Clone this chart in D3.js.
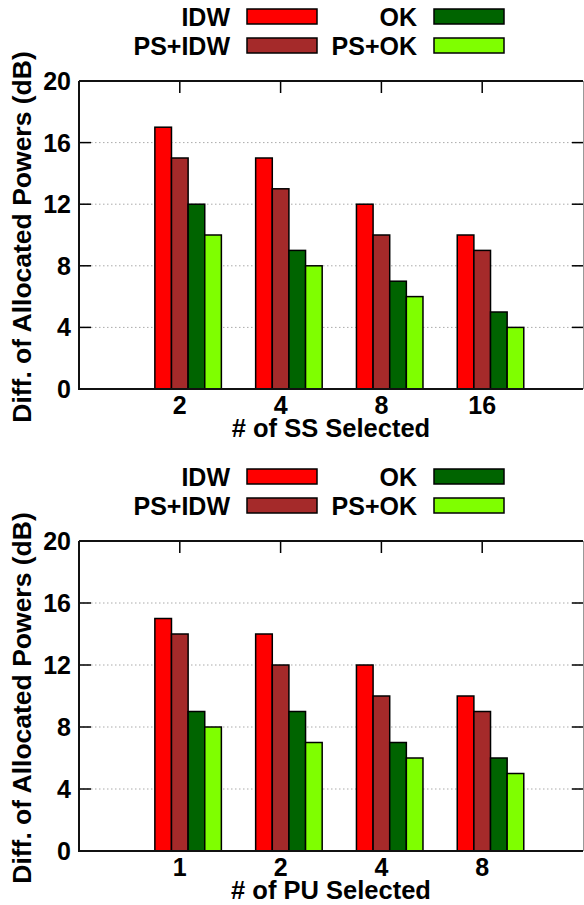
<!DOCTYPE html>
<html lang="en">
  <head>
    <meta charset="utf-8">
    <title>Diff. of Allocated Powers</title>
    <style type="text/css">
      body {
        margin: 0;
        background-color: #ffffff;
      }
      svg text {
        font-family: "Liberation Sans", Arial, sans-serif;
        font-weight: bold;
      }
    </style>
    <script src="https://d3js.org/d3.v7.min.js"></script>
  </head>
  <body>
    <div id="my_dataviz"></div>

    <script>

    // series + colours
    var seriesNames = ["IDW", "PS+IDW", "OK", "PS+OK"];
    var seriesColors = ["#ff0000", "#a52a2a", "#006400", "#7fff00"];
    var yTicks = [0, 4, 8, 12, 16, 20];

    // top panel: # of SS selected
    var ssCategories = ["2", "4", "8", "16"];
    var ssIDW   = [17, 15, 12, 10];
    var ssPSIDW = [15, 13, 10, 9];
    var ssOK    = [12, 9, 7, 5];
    var ssPSOK  = [10, 8, 6, 4];

    // bottom panel: # of PU selected
    var puCategories = ["1", "2", "4", "8"];
    var puIDW   = [15, 14, 12, 10];
    var puPSIDW = [14, 12, 10, 9];
    var puOK    = [9, 9, 7, 6];
    var puPSOK  = [8, 7, 6, 5];

    var width = 584, height = 905;
    var fontSize = 25;

    var svg = d3.select("#my_dataviz")
      .append("svg")
        .attr("width", width)
        .attr("height", height);

    function drawPanel(top, bottom, categories, values, xTitle) {
      var left = 79, right = 583;
      var g = svg.append("g");

      // gnuplot style xrange [-1:4]
      var x = d3.scaleLinear().domain([-1, categories.length]).range([left, right]);
      var y = d3.scaleLinear().domain([0, 20]).range([bottom, top]);
      var bw = x(0.165) - x(0);

      // dotted grid
      g.selectAll("grid")
        .data(yTicks.filter(function(d){ return d > 0 && d < 20 }))
        .enter()
        .append("line")
          .attr("x1", left)
          .attr("x2", right)
          .attr("y1", function(d){ return y(d) })
          .attr("y2", function(d){ return y(d) })
          .attr("stroke", "#aaaaaa")
          .attr("stroke-width", 1)
          .attr("stroke-dasharray", "1.5,2.5");

      // ticks inward, left + right
      g.selectAll("lticks")
        .data(yTicks)
        .enter()
        .append("line")
          .attr("x1", left).attr("x2", left + 12)
          .attr("y1", function(d){ return y(d) })
          .attr("y2", function(d){ return y(d) })
          .attr("stroke", "#000").attr("stroke-width", 1.5);
      g.selectAll("rticks")
        .data(yTicks)
        .enter()
        .append("line")
          .attr("x1", right - 11).attr("x2", right)
          .attr("y1", function(d){ return y(d) })
          .attr("y2", function(d){ return y(d) })
          .attr("stroke", "#000").attr("stroke-width", 1.5);

      // x ticks on top (mirror)
      g.selectAll("tticks")
        .data(categories)
        .enter()
        .append("line")
          .attr("x1", function(d, i){ return x(i) })
          .attr("x2", function(d, i){ return x(i) })
          .attr("y1", top).attr("y2", top + 12)
          .attr("stroke", "#000").attr("stroke-width", 1.5);

      // bars
      values.forEach(function(vals, j) {
        g.selectAll("bars" + j)
          .data(vals)
          .enter()
          .append("rect")
            .attr("x", function(d, i){ return x(i) + (j - 1.5) * bw })
            .attr("y", function(d){ return y(d) })
            .attr("width", bw)
            .attr("height", function(d){ return y(0) - y(d) })
            .attr("fill", seriesColors[j])
            .attr("stroke", "#000")
            .attr("stroke-width", 1.5);
      });

      // frame
      g.append("path")
        .attr("d", "M" + left + "," + top + "V" + bottom + "H" + right)
        .attr("fill", "none").attr("stroke", "#111").attr("stroke-width", 2);
      g.append("line")
        .attr("x1", left).attr("x2", right)
        .attr("y1", top).attr("y2", top)
        .attr("stroke", "#111").attr("stroke-width", 2);
      g.append("line")
        .attr("x1", right + 0.5).attr("x2", right + 0.5)
        .attr("y1", top).attr("y2", bottom)
        .attr("stroke", "#999").attr("stroke-width", 1);

      // y tick labels
      g.selectAll("ylabels")
        .data(yTicks)
        .enter()
        .append("text")
          .attr("x", left - 8)
          .attr("y", function(d){ return y(d) })
          .attr("dy", "0.36em")
          .attr("text-anchor", "end")
          .attr("font-size", fontSize + "px")
          .attr("fill", "#000")
          .text(function(d){ return d });

      // x tick labels
      g.selectAll("xlabels")
        .data(categories)
        .enter()
        .append("text")
          .attr("x", function(d, i){ return x(i) })
          .attr("y", bottom + 25)
          .attr("text-anchor", "middle")
          .attr("font-size", fontSize + "px")
          .attr("fill", "#000")
          .text(function(d){ return d });

      // axis titles
      g.append("text")
        .attr("x", (left + right) / 2)
        .attr("y", bottom + 48)
        .attr("text-anchor", "middle")
        .attr("font-size", "25.5px")
        .attr("fill", "#000")
        .text(xTitle);

      g.append("text")
        .attr("transform", "translate(31," + ((top + bottom) / 2 + 2) + ") rotate(-90)")
        .attr("text-anchor", "middle")
        .attr("font-size", "26.5px")
        .attr("fill", "#000")
        .text("Diff. of Allocated Powers (dB)");

      // legend, 2 columns x 2 rows
      var legX = [230, 417];
      seriesNames.forEach(function(name, j) {
        var col = Math.floor(j / 2), row = j % 2;
        var by = top - 55 + row * 29;
        g.append("text")
          .attr("x", legX[col])
          .attr("y", by)
          .attr("text-anchor", "end")
          .attr("font-size", fontSize + "px")
          .attr("fill", "#000")
          .text(name);
        g.append("rect")
          .attr("x", legX[col] + 17)
          .attr("y", by - 17)
          .attr("width", 70)
          .attr("height", 15)
          .attr("fill", seriesColors[j])
          .attr("stroke", "#000")
          .attr("stroke-width", 1.5);
      });
    }

    drawPanel(81, 389, ssCategories, [ssIDW, ssPSIDW, ssOK, ssPSOK], "# of SS Selected");
    drawPanel(541, 851, puCategories, [puIDW, puPSIDW, puOK, puPSOK], "# of PU Selected");

    </script>
  </body>
</html>
